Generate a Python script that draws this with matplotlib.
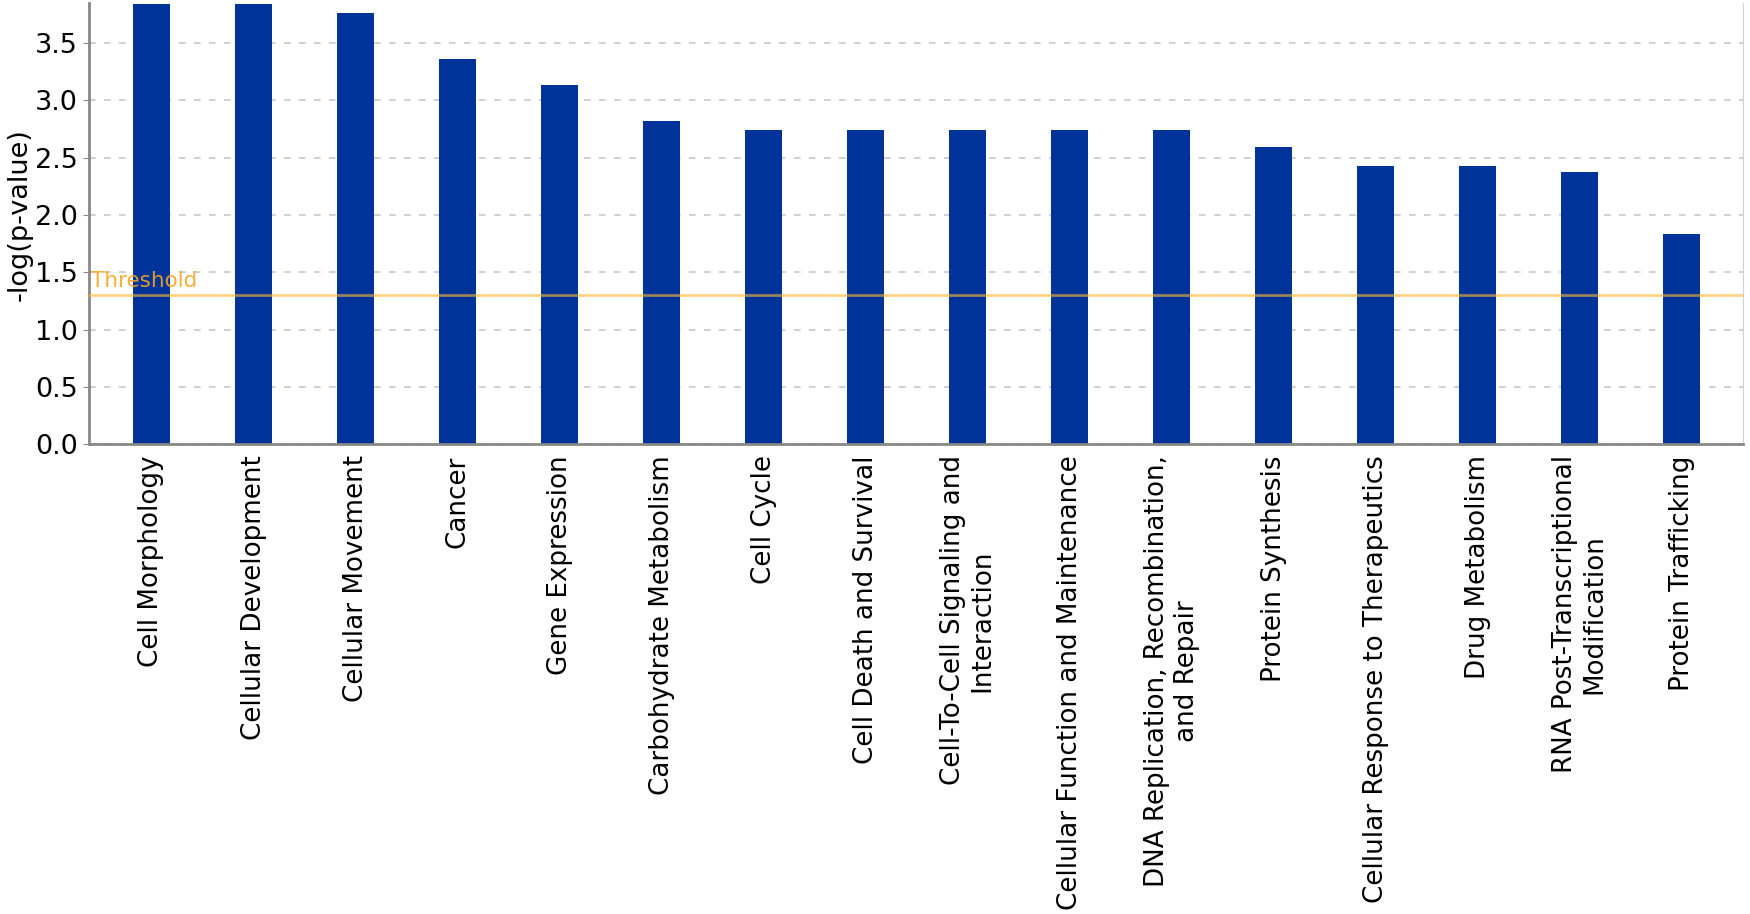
import numpy as np
import matplotlib
matplotlib.use("Agg")
import matplotlib.pyplot as plt

categories = [
    "Cell Morphology", "Cellular Development", "Cellular Movement", "Cancer",
    "Gene Expression", "Carbohydrate Metabolism", "Cell Cycle",
    "Cell Death and Survival", "Cell-To-Cell Signaling and\nInteraction",
    "Cellular Function and Maintenance",
    "DNA Replication, Recombination,\nand Repair", "Protein Synthesis",
    "Cellular Response to Therapeutics", "Drug Metabolism",
    "RNA Post-Transcriptional\nModification", "Protein Trafficking",
]
neg_log_p = [3.84, 3.84, 3.76, 3.36, 3.13, 2.82, 2.74, 2.74, 2.74, 2.74,
             2.74, 2.59, 2.43, 2.43, 2.37, 1.83]
threshold = 1.30
yticks = [0.0, 0.5, 1.0, 1.5, 2.0, 2.5, 3.0, 3.5]

plt.rcParams['font.family'] = ['DejaVu Sans']

fig = plt.figure(figsize=(17.5, 9.14), dpi=100)
ax = fig.add_axes([0.051, 0.514, 0.945, 0.483])

x = np.arange(len(categories))
ax.bar(x, neg_log_p, width=0.36, color='#003399', zorder=2)

# threshold line, semi transparent so it looks grey over the bars
ax.axhline(threshold, color='#ffb732', alpha=0.6, linewidth=2, zorder=3)
ax.text(-0.59, threshold + 0.035, "Threshold", color='#f5a623', fontsize=15.5,
        ha='left', va='bottom', alpha=0.9, zorder=4)

ax.set_xlim(-0.61, len(categories) - 0.4)
ax.set_ylim(0, 3.85)
ax.set_yticks(yticks)
ax.set_yticklabels([f"{t:.1f}" for t in yticks])
ax.set_xticks(x)
ax.set_xticklabels(categories, rotation=90, va='top', ha='center',
                   multialignment='center', fontsize=18.8)
ax.tick_params(axis='x', length=0, pad=8)
ax.tick_params(axis='y', labelsize=19.5, length=4, color='#888888', pad=4)
ax.set_ylabel("-log(p-value)", fontsize=19.5)
ax.yaxis.set_label_coords(-0.034, 0.52)

ax.grid(axis='y', linestyle=(0, (4, 5)), color='#c8c8c8', linewidth=1.2, zorder=0)
ax.set_axisbelow(True)

for side in ['left', 'bottom']:
    ax.spines[side].set_color('#888888')
    ax.spines[side].set_linewidth(2)
ax.spines['right'].set_color('#d0d0d0')
ax.spines['top'].set_visible(False)

fig.savefig("out.png", dpi=100)
